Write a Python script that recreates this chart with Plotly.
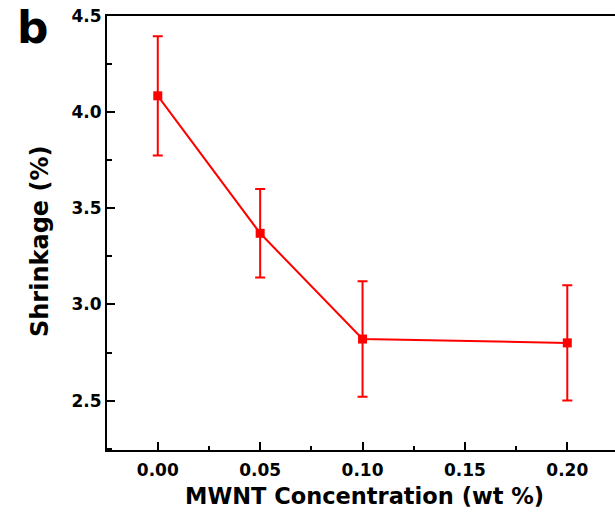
import plotly.graph_objects as go

# MWNT loading (wt %) and measured shrinkage (%) with standard deviation
concentration = [0.00, 0.05, 0.10, 0.20]
shrinkage = [4.085, 3.37, 2.82, 2.80]
shrinkage_err = [0.31, 0.23, 0.30, 0.30]

x_ticks = [0.00, 0.05, 0.10, 0.15, 0.20]
y_ticks = [2.5, 3.0, 3.5, 4.0, 4.5]

FONT = "DejaVu Sans"
RED = "#FF0000"

fig = go.Figure()
fig.add_trace(go.Scatter(
    x=concentration,
    y=shrinkage,
    mode="lines+markers",
    line=dict(color=RED, width=2),
    marker=dict(symbol="square", size=9, color=RED),
    error_y=dict(type="data", array=shrinkage_err, visible=True,
                 color=RED, thickness=2, width=5),
    showlegend=False,
))

axis_common = dict(
    showline=True, linecolor="black", linewidth=2,
    ticks="inside", tickcolor="black", tickwidth=2, ticklen=8,
    showgrid=False, zeroline=False,
    tickfont=dict(family=FONT, size=17, color="black", weight="bold"),
)

fig.update_layout(
    width=615, height=517,
    margin=dict(l=107, r=0, t=16, b=67),
    paper_bgcolor="white", plot_bgcolor="white",
    xaxis=dict(
        range=[-0.0248, 0.2233],
        tickvals=x_ticks, ticktext=[f"{v:.2f}" for v in x_ticks],
        mirror=True,
        ticklabelstandoff=4,
        minor=dict(ticks="inside", dtick=0.025, tick0=0, ticklen=4,
                   tickwidth=2, tickcolor="black"),
        **axis_common,
    ),
    yaxis=dict(
        range=[2.243, 4.5],
        tickvals=y_ticks, ticktext=[f"{v:.1f}" for v in y_ticks],
        mirror=False,
        minor=dict(ticks="inside", dtick=0.25, tick0=2.25, ticklen=5,
                   tickwidth=2, tickcolor="black"),
        **axis_common,
    ),
    annotations=[
        dict(text="MWNT Concentration (wt %)", xref="paper", yref="paper",
             x=(364 - 107) / 508, y=-(496 - 450) / 434,
             xanchor="center", yanchor="middle", showarrow=False,
             font=dict(family=FONT, size=22.5, color="black", weight="bold")),
        dict(text="Shrinkage (%)", xref="paper", yref="paper",
             x=(40 - 107) / 508, y=(450 - 242) / 434, textangle=-90,
             xanchor="center", yanchor="middle", showarrow=False,
             font=dict(family=FONT, size=24, color="black", weight="bold")),
        dict(text="b", xref="paper", yref="paper",
             x=(33 - 107) / 508, y=(450 - 28) / 434,
             xanchor="center", yanchor="middle", showarrow=False,
             font=dict(family=FONT, size=44, color="black", weight="bold")),
    ],
)

fig.write_html("out.html")
